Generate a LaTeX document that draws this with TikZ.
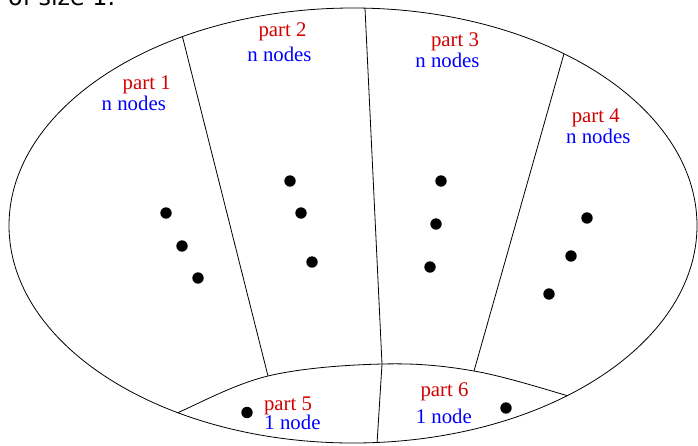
\documentclass[tikz,border=0pt]{standalone}
\usepackage{fontspec}
\setmainfont{Liberation Serif}
\newfontfamily\capsans{DejaVu Sans}
\definecolor{partred}{RGB}{210,0,0}
\definecolor{partblue}{RGB}{0,0,255}
\begin{document}
\begin{tikzpicture}[x=1pt,y=-1pt,
  edge/.style={line width=0.8pt,black},
  vtx/.style={circle,fill=black,inner sep=0pt,minimum size=11.4pt},
  ptitle/.style={anchor=base,text=partred,font=\fontsize{20.8}{24}\selectfont,inner sep=0pt},
  pcount/.style={anchor=base,text=partblue,font=\fontsize{20.8}{24}\selectfont,inner sep=0pt}]
\useasboundingbox (0,0) rectangle (698,445);
\begin{scope}
\clip (0,0) rectangle (698,445);
\node[anchor=base west,inner sep=0pt,font=\capsans\fontsize{23.8}{28}\selectfont] (caption) at (8,5.7) {of size 1.};
\end{scope}
% outer ellipse
\coordinate (c) at (353,225.5);
\draw[edge] (c) ellipse [x radius=344, y radius=217.5];
% dividing lines
\coordinate (a1) at (179.5,25);   \coordinate (b1) at (268,376);
\coordinate (a2) at (364.5,-2);   \coordinate (b2) at (382,364);
\coordinate (e2) at (376,460);
\coordinate (a3) at (569,36);     \coordinate (b3) at (474,371);
\coordinate (l5) at (158,422);    \coordinate (r6) at (592,404);
\begin{scope}
\clip (c) ellipse [x radius=344, y radius=217.5];
\draw[edge] (a1) -- (b1);
\draw[edge] (a2) -- (b2) -- (e2);
\draw[edge] (a3) -- (b3);
\draw[edge] plot[smooth,tension=0.6] coordinates {(l5) (177,413) (b1) (b2) (b3) (572,397) (r6)};
\end{scope}
% vertices
\node[vtx] (v11) at (166,213) {};
\node[vtx] (v12) at (182,246) {};
\node[vtx] (v13) at (198,278) {};
\node[vtx] (v21) at (290,181) {};
\node[vtx] (v22) at (301,213) {};
\node[vtx] (v23) at (312,262) {};
\node[vtx] (v31) at (441,181) {};
\node[vtx] (v32) at (436,224) {};
\node[vtx] (v33) at (430,267) {};
\node[vtx] (v41) at (587,218) {};
\node[vtx] (v42) at (571,256) {};
\node[vtx] (v43) at (549,294) {};
\node[vtx] (v51) at (247,412.5) {};
\node[vtx] (v61) at (506,408) {};
% labels
\node[ptitle] (t1) at (146.7,89.3) {part 1};
\node[pcount] (n1) at (133.8,110) {n nodes};
\node[ptitle] (t2) at (282.5,36.7) {part 2};
\node[pcount] (n2) at (279.5,61.7) {n nodes};
\node[ptitle] (t3) at (455,46) {part 3};
\node[pcount] (n3) at (447.5,67.7) {n nodes};
\node[ptitle] (t4) at (595.8,122.3) {part 4};
\node[pcount] (n4) at (598.3,143.3) {n nodes};
\node[ptitle] (t5) at (288,410) {part 5};
\node[pcount] (n5) at (292.5,429.3) {1 node};
\node[ptitle] (t6) at (444.5,396.7) {part 6};
\node[pcount] (n6) at (443.8,423.3) {1 node};
\end{tikzpicture}
\end{document}
